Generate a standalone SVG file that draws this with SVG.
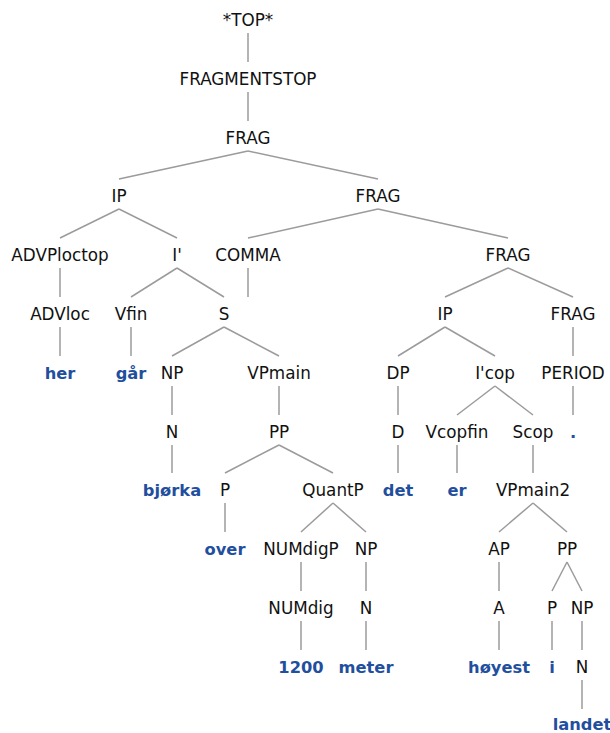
<svg xmlns="http://www.w3.org/2000/svg" width="610" height="733" viewBox="0 0 610 733">
<style>
.n{font-family:"DejaVu Sans",Verdana,sans-serif;font-size:16.8px;fill:#111;text-anchor:middle}
.w{font-family:"DejaVu Sans",Verdana,sans-serif;font-size:16.3px;font-weight:bold;fill:#1f4f9e;text-anchor:middle}
#edges line{stroke:#9b9b9b;stroke-width:1.5}
</style>
<rect width="610" height="733" fill="#fff"/>
<g id="edges">
<line x1="248" y1="33" x2="248" y2="62"/>
<line x1="248" y1="92" x2="248" y2="121"/>
<line x1="248" y1="151" x2="119" y2="179"/>
<line x1="248" y1="151" x2="378" y2="179"/>
<line x1="119" y1="209" x2="60" y2="238"/>
<line x1="119" y1="209" x2="177" y2="238"/>
<line x1="60" y1="268" x2="60" y2="297"/>
<line x1="60" y1="327" x2="60" y2="356"/>
<line x1="177" y1="268" x2="131" y2="297"/>
<line x1="177" y1="268" x2="224" y2="297"/>
<line x1="131" y1="327" x2="131" y2="356"/>
<line x1="224" y1="327" x2="172" y2="356"/>
<line x1="224" y1="327" x2="279" y2="356"/>
<line x1="172" y1="386" x2="172" y2="415"/>
<line x1="172" y1="445" x2="172" y2="473"/>
<line x1="279" y1="386" x2="279" y2="415"/>
<line x1="279" y1="445" x2="225" y2="473"/>
<line x1="279" y1="445" x2="333" y2="473"/>
<line x1="225" y1="503" x2="225" y2="532"/>
<line x1="333" y1="503" x2="301" y2="532"/>
<line x1="333" y1="503" x2="366" y2="532"/>
<line x1="301" y1="562" x2="301" y2="591"/>
<line x1="366" y1="562" x2="366" y2="591"/>
<line x1="301" y1="621" x2="301" y2="650"/>
<line x1="366" y1="621" x2="366" y2="650"/>
<line x1="378" y1="209" x2="248" y2="238"/>
<line x1="378" y1="209" x2="508" y2="238"/>
<line x1="248" y1="268" x2="248" y2="297"/>
<line x1="508" y1="268" x2="445" y2="297"/>
<line x1="508" y1="268" x2="573" y2="297"/>
<line x1="445" y1="327" x2="398" y2="356"/>
<line x1="445" y1="327" x2="495" y2="356"/>
<line x1="398" y1="386" x2="398" y2="415"/>
<line x1="398" y1="445" x2="398" y2="473"/>
<line x1="495" y1="386" x2="457" y2="415"/>
<line x1="495" y1="386" x2="533" y2="415"/>
<line x1="457" y1="445" x2="457" y2="473"/>
<line x1="533" y1="445" x2="533" y2="473"/>
<line x1="533" y1="503" x2="499" y2="532"/>
<line x1="533" y1="503" x2="567" y2="532"/>
<line x1="499" y1="562" x2="499" y2="591"/>
<line x1="499" y1="621" x2="499" y2="650"/>
<line x1="567" y1="562" x2="552" y2="591"/>
<line x1="567" y1="562" x2="582" y2="591"/>
<line x1="552" y1="621" x2="552" y2="650"/>
<line x1="582" y1="621" x2="582" y2="650"/>
<line x1="582" y1="680" x2="582" y2="709"/>
<line x1="573" y1="327" x2="573" y2="356"/>
<line x1="573" y1="386" x2="573" y2="415"/>
</g>
<g id="n_top"><text class="n" x="248" y="26">*TOP*</text></g>
<g id="n_fragmentstop"><text class="n" x="248" y="85">FRAGMENTSTOP</text></g>
<g id="n_frag1"><text class="n" x="248" y="144">FRAG</text></g>
<g id="n_ip1"><text class="n" x="119" y="202">IP</text></g>
<g id="n_frag2"><text class="n" x="378" y="202">FRAG</text></g>
<g id="n_advploctop"><text class="n" x="60" y="261">ADVPloctop</text></g>
<g id="n_ibar"><text class="n" x="177" y="261">I'</text></g>
<g id="n_comma"><text class="n" x="248" y="261">COMMA</text></g>
<g id="n_frag3"><text class="n" x="508" y="261">FRAG</text></g>
<g id="n_advloc"><text class="n" x="60" y="320">ADVloc</text></g>
<g id="n_vfin"><text class="n" x="131" y="320">Vfin</text></g>
<g id="n_s"><text class="n" x="224" y="320">S</text></g>
<g id="n_ip2"><text class="n" x="445" y="320">IP</text></g>
<g id="n_frag4"><text class="n" x="573" y="320">FRAG</text></g>
<g id="w_her"><text class="w" x="60" y="379">her</text></g>
<g id="w_gar"><text class="w" x="131" y="379">går</text></g>
<g id="n_np1"><text class="n" x="172" y="379">NP</text></g>
<g id="n_vpmain"><text class="n" x="279" y="379">VPmain</text></g>
<g id="n_dp"><text class="n" x="398" y="379">DP</text></g>
<g id="n_icop"><text class="n" x="495" y="379">I'cop</text></g>
<g id="n_period"><text class="n" x="573" y="379">PERIOD</text></g>
<g id="n_n1"><text class="n" x="172" y="438">N</text></g>
<g id="n_pp1"><text class="n" x="279" y="438">PP</text></g>
<g id="n_d"><text class="n" x="398" y="438">D</text></g>
<g id="n_vcopfin"><text class="n" x="457" y="438">Vcopfin</text></g>
<g id="n_scop"><text class="n" x="533" y="438">Scop</text></g>
<g id="w_dot"><text class="w" x="573" y="438">.</text></g>
<g id="w_bjorka"><text class="w" x="172" y="496">bjørka</text></g>
<g id="n_p1"><text class="n" x="225" y="496">P</text></g>
<g id="n_quantp"><text class="n" x="333" y="496">QuantP</text></g>
<g id="w_det"><text class="w" x="398" y="496">det</text></g>
<g id="w_er"><text class="w" x="457" y="496">er</text></g>
<g id="n_vpmain2"><text class="n" x="533" y="496">VPmain2</text></g>
<g id="w_over"><text class="w" x="225" y="555">over</text></g>
<g id="n_numdigp"><text class="n" x="301" y="555">NUMdigP</text></g>
<g id="n_np2"><text class="n" x="366" y="555">NP</text></g>
<g id="n_ap"><text class="n" x="499" y="555">AP</text></g>
<g id="n_pp2"><text class="n" x="567" y="555">PP</text></g>
<g id="n_numdig"><text class="n" x="301" y="614">NUMdig</text></g>
<g id="n_n2"><text class="n" x="366" y="614">N</text></g>
<g id="n_a"><text class="n" x="499" y="614">A</text></g>
<g id="n_p2"><text class="n" x="552" y="614">P</text></g>
<g id="n_np3"><text class="n" x="582" y="614">NP</text></g>
<g id="w_1200"><text class="w" x="301" y="673">1200</text></g>
<g id="w_meter"><text class="w" x="366" y="673">meter</text></g>
<g id="w_hoyest"><text class="w" x="499" y="673">høyest</text></g>
<g id="w_i"><text class="w" x="552" y="673">i</text></g>
<g id="n_n3"><text class="n" x="582" y="673">N</text></g>
<g id="w_landet"><text class="w" x="582" y="730">landet</text></g>
</svg>
